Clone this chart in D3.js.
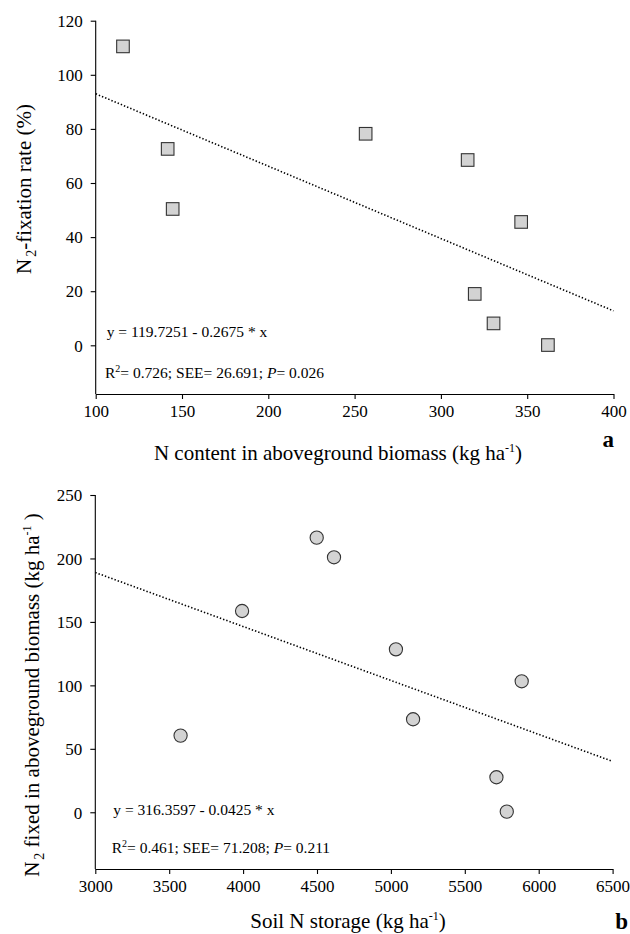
<!DOCTYPE html>
<html>
<head>
<meta charset="utf-8">
<script src="https://cdn.jsdelivr.net/npm/d3@7"></script>
<style>
    body { margin: 0; background: #fff; }
    svg text { font-family: "Liberation Serif", "Times New Roman", serif; fill: #000; }
    .tick text { font-size: 17px; }
    .ann { font-size: 15.5px; }
    .ttl { font-size: 21px; }
    .lett { font-size: 23px; font-weight: bold; }
</style>
</head>
<body>
<div class="curr-graff"></div>
<script>
// panel a - N content vs N2-fixation rate
let nContent = [115.8, 141.7, 144.6, 256.4, 315.5, 346.5, 319.6, 330.5, 362.0];
let fixRate  = [110.5, 72.6, 50.4, 78.2, 68.5, 45.6, 19.0, 8.1, 0.1];
let fitA_x = [100, 400];
let fitA_y = [92.97, 12.73];
let ticksA_x = [100, 150, 200, 250, 300, 350, 400];
let ticksA_y = [0, 20, 40, 60, 80, 100, 120];

// panel b - soil N storage vs N2 fixed
let soilN   = [3577, 3993, 4498, 4615, 5034, 5150, 5714, 5784, 5885];
let nFixed  = [60.4, 158.6, 216.4, 200.9, 128.4, 73.3, 27.6, 0.5, 103.2];
let fitB_x = [3000, 6500];
let fitB_y = [188.9, 40.1];
let ticksB_x = [3000, 3500, 4000, 4500, 5000, 5500, 6000, 6500];
let ticksB_y = [0, 50, 100, 150, 200, 250];

var svg = d3.select(".curr-graff")
    .append("svg")
    .attr("width", 630)
    .attr("height", 934);

function DrawPanel(cfg) {
    var xScale = d3.scaleLinear().domain(cfg.xDom).range([cfg.left, cfg.right]);
    var yScale = d3.scaleLinear().domain(cfg.yDom).range([cfg.bottom, cfg.top]);

    var xAxis = d3.axisBottom(xScale).tickValues(cfg.xTicks).tickSize(5).tickSizeOuter(0).tickPadding(6).tickFormat(d3.format("d"));
    var yAxis = d3.axisLeft(yScale).tickValues(cfg.yTicks).tickSize(5).tickSizeOuter(0).tickPadding(8).tickFormat(d3.format("d"));

    var gx = svg.append("g")
        .attr("transform", "translate(0," + cfg.bottom + ")")
        .call(xAxis);
    var gy = svg.append("g")
        .attr("transform", "translate(" + cfg.left + ",0)")
        .call(yAxis);

    // axis line only up to the top tick
    gy.select(".domain").attr("d", "M0," + yScale(cfg.yTicks[cfg.yTicks.length - 1]) + "V" + cfg.bottom);
    [gx, gy].forEach(g => {
        g.attr("font-family", null).attr("font-size", null);
        g.selectAll("line, path").attr("stroke", "#000").attr("stroke-width", 1.1);
    });
    gy.selectAll(".tick text").attr("dy", "0.34em");

    // fitted regression line (dotted)
    svg.append("path")
        .datum(cfg.fitX)
        .attr("fill", "none")
        .attr("stroke", "#000")
        .attr("stroke-width", 1.6)
        .attr("stroke-dasharray", "1.4,2")
        .attr("d", d3.line()
            .x(d => xScale(d))
            .y((d, i) => yScale(cfg.fitY[i])));

    var pts = cfg.xs.map((d, i) => ({x: d, y: cfg.ys[i]}));
    if (cfg.shape === "square") {
        svg.selectAll(null)
            .data(pts)
            .enter()
            .append("rect")
            .attr("x", d => xScale(d.x) - 6.3)
            .attr("y", d => yScale(d.y) - 6.3)
            .attr("width", 12.6)
            .attr("height", 12.6)
            .attr("fill", "#d3d3d3")
            .attr("stroke", "#333")
            .attr("stroke-width", 1.1);
    } else {
        svg.selectAll(null)
            .data(pts)
            .enter()
            .append("circle")
            .attr("cx", d => xScale(d.x))
            .attr("cy", d => yScale(d.y))
            .attr("r", 6.6)
            .attr("fill", "#d3d3d3")
            .attr("stroke", "#333")
            .attr("stroke-width", 1.1);
    }

    // equation text
    var eq = svg.append("text").attr("class", "ann")
        .attr("x", cfg.eqPos[0]).attr("y", cfg.eqPos[1])
        .text(cfg.eqText);

    var st = svg.append("text").attr("class", "ann")
        .attr("x", cfg.statPos[0]).attr("y", cfg.statPos[1]);
    st.append("tspan").text("R");
    st.append("tspan").attr("dy", -6).attr("font-size", "10px").text("2");
    st.append("tspan").attr("dy", 6).text("= " + cfg.r2 + "; SEE= " + cfg.see + "; ");
    st.append("tspan").attr("font-style", "italic").text("P");
    st.append("tspan").text("= " + cfg.p);

    // x title
    var xt = svg.append("text").attr("class", "ttl")
        .attr("x", cfg.xTitlePos[0]).attr("y", cfg.xTitlePos[1])
        .attr("text-anchor", "middle");
    xt.append("tspan").text(cfg.xTitle + " (kg ha");
    xt.append("tspan").attr("dy", -8).attr("font-size", "12px").text("-1");
    xt.append("tspan").attr("dy", 8).text(")");

    // y title (rotated)
    var yt = svg.append("g")
        .attr("transform", "translate(" + cfg.yTitlePos[0] + "," + cfg.yTitlePos[1] + ") rotate(-90)")
        .append("text").attr("class", "ttl")
        .attr("text-anchor", "middle");
    yt.append("tspan").text("N");
    yt.append("tspan").attr("dy", 5).attr("dx", 2).attr("font-size", "14px").text("2");
    yt.append("tspan").attr("dy", -5).text(cfg.yTitle);
    if (cfg.yUnit) {
        yt.append("tspan").text(" (kg ha");
        yt.append("tspan").attr("dy", -8).attr("font-size", "12px").text("-1");
        yt.append("tspan").attr("dy", 8).text(" )");
    }

    svg.append("text").attr("class", "lett")
        .attr("x", cfg.lettPos[0]).attr("y", cfg.lettPos[1])
        .attr("text-anchor", "end")
        .text(cfg.lett);
}

DrawPanel({
    xs: nContent, ys: fixRate, shape: "square",
    fitX: fitA_x, fitY: fitA_y,
    xDom: [100, 400], yDom: [-18, 120],
    left: 95.7, right: 613.5, top: 20.7, bottom: 394,
    xTicks: ticksA_x, yTicks: ticksA_y,
    eqText: "y = 119.7251 - 0.2675 * x", eqPos: [106.7, 336.7],
    r2: "0.726", see: "26.691", p: "0.026", statPos: [105, 378.3],
    xTitle: "N content in aboveground biomass", xTitlePos: [338, 460],
    yTitle: "-fixation rate (%)", yUnit: false, yTitlePos: [31, 189],
    lett: "a", lettPos: [614, 447]
});

DrawPanel({
    xs: soilN, ys: nFixed, shape: "circle",
    fitX: fitB_x, fitY: fitB_y,
    xDom: [3000, 6500], yDom: [-44.7, 250],
    left: 95.3, right: 612.6, top: 495, bottom: 869,
    xTicks: ticksB_x, yTicks: ticksB_y,
    eqText: "y = 316.3597 - 0.0425 * x", eqPos: [113.3, 815],
    r2: "0.461", see: "71.208", p: "0.211", statPos: [111.7, 853.3],
    xTitle: "Soil N storage", xTitlePos: [348, 928],
    yTitle: " fixed in aboveground biomass", yUnit: true, yTitlePos: [39, 695],
    lett: "b", lettPos: [628, 929]
});
</script>
</body>
</html>
